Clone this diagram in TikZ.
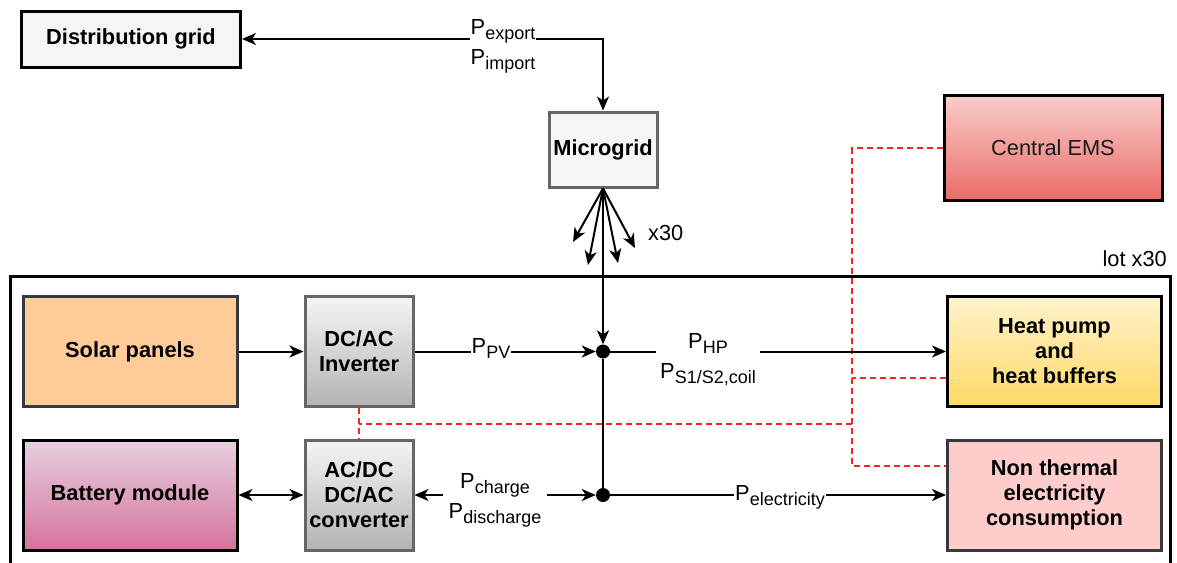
\documentclass[tikz,border=0pt]{standalone}
\usepackage{fontspec}
\setmainfont{Liberation Sans}
\usetikzlibrary{arrows.meta,positioning}

\definecolor{gridfill}{HTML}{F5F5F5}
\definecolor{edgegray}{HTML}{666666}
\definecolor{darkedge}{HTML}{36393D}
\definecolor{solarfill}{HTML}{FFCC99}
\definecolor{emstop}{HTML}{F8CECC}
\definecolor{emsbot}{HTML}{EA6B66}
\definecolor{convtop}{HTML}{F5F5F5}
\definecolor{convbot}{HTML}{B3B3B3}
\definecolor{battop}{HTML}{E6D0DE}
\definecolor{batbot}{HTML}{D5739D}
\definecolor{hptop}{HTML}{FFF2CC}
\definecolor{hpbot}{HTML}{FFD966}
\definecolor{loadfill}{HTML}{FFCCCC}
\definecolor{ctrlred}{HTML}{FF2020}

\newcommand{\boxfont}{\fontsize{21.8}{25}\selectfont}
\newcommand{\pflow}[1]{P\raisebox{-5pt}{\fontsize{18}{18}\selectfont #1}}

\tikzset{
    >={Stealth[length=14pt,width=12pt,inset=4pt]},
    box/.style={draw, line width=3pt, align=center, font=\boxfont\bfseries, inner sep=2pt},
    bigbox/.style={box, minimum width=214pt, minimum height=110pt},
    convbox/.style={box, draw=edgegray, minimum width=108pt, minimum height=110pt,
        top color=convtop, bottom color=convbot},
    flow/.style={line width=2pt},
    ctrl/.style={line width=2.2pt, draw=ctrlred, dash pattern=on 6pt off 4pt},
    flowlabel/.style={fill=white, inner sep=1pt, align=center, font=\fontsize{21.8}{30}\selectfont},
    junction/.style={circle, fill=black, inner sep=0pt, minimum size=14pt}
}

\begin{document}
\begin{tikzpicture}[x=1pt, y=-1pt]
    \useasboundingbox (0,0) rectangle (1177,562);

    % Grid side
    \node[box, fill=gridfill, minimum width=219pt, minimum height=56pt] (grid) at (131,39) {Distribution grid};
    \node[box, draw=edgegray, fill=gridfill, minimum width=108pt, minimum height=75pt] (micro) at (603,149.5) {Microgrid};
    \node[box, font=\boxfont, text=black!90, top color=emstop, bottom color=emsbot,
        minimum width=218pt, minimum height=105pt] (ems) at (1053,148) {Central EMS};

    % One lot
    \node[draw, line width=3pt, minimum width=1160pt, minimum height=292pt, inner sep=0pt] (lot) at (590,422) {};
    \node[anchor=base east, inner sep=0pt, font=\boxfont] (lotlabel) at (1167,266) {lot x30};

    \node[bigbox, draw=darkedge, fill=solarfill] (solar) at (130,351.5) {Solar panels};
    \node[convbox] (inv) at (359,351.5) {DC/AC\\Inverter};
    \node[bigbox, top color=battop, bottom color=batbot] (battery) at (130,495) {Battery module};
    \node[convbox] (conv) at (359,495) {AC/DC\\DC/AC\\converter};
    \node[bigbox, top color=hptop, bottom color=hpbot] (hp) at (1054.5,351.5) {Heat pump\\and\\heat buffers};
    \node[bigbox, draw=darkedge, fill=loadfill] (load) at (1054.5,495) {Non thermal\\electricity\\consumption};

    \node[junction] (j1) at (603,351.5) {};
    \node[junction] (j2) at (603,495) {};

    % Control signals
    \coordinate (bus) at (852,466);
    \coordinate (tap) at (852,424);
    \coordinate (hptap) at (852,378);
    \draw[ctrl] (ems.west) -| (bus) -- (bus -| load.west);
    \draw[ctrl] (hptap -| hp.west) -- (hptap);
    \draw[ctrl] (tap) -- (tap -| inv.south);
    \draw[ctrl] (inv.south) -- (conv.north);

    % Power flows
    \draw[flow, <->] (grid.east) -| (micro.north);
    \draw[flow, ->] (micro.south) -- (j1);
    \foreach \tx/\ty in {573/242, 588/265, 618/263, 635/248}
        \draw[flow, ->] (micro.south) -- (\tx,\ty);
    \node[anchor=west, inner sep=0pt, font=\boxfont] (fan) at (648,233) {x30};
    \draw[flow] (j1) -- (j2);
    \draw[flow, ->] (solar) -- (inv);
    \draw[flow, ->] (inv) -- (j1);
    \draw[flow, ->] (j1) -- (hp);
    \draw[flow, <->] (battery) -- (conv);
    \draw[flow, <->] (conv) -- (j2);
    \draw[flow, ->] (j2) -- (load);

    % Flow labels
    \node[flowlabel] (pgrid) at (503,46) {\pflow{export}\\\pflow{import}};
    \node[flowlabel] (ppv) at (491,348) {\pflow{PV}};
    \node[flowlabel, inner xsep=4pt] (php) at (708,360) {\pflow{HP}\\\pflow{S1/S2,coil}};
    \node[flowlabel, inner xsep=6pt] (pbat) at (495,500) {\pflow{charge}\\\pflow{discharge}};
    \node[flowlabel] (pel) at (780,497) {\pflow{electricity}};
\end{tikzpicture}
\end{document}
